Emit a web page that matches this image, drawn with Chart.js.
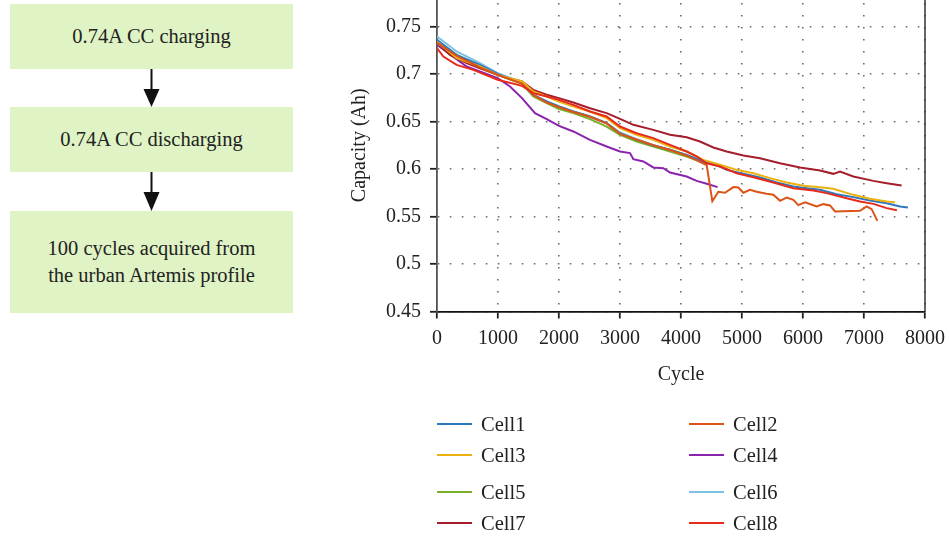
<!DOCTYPE html>
<html>
<head>
<meta charset="utf-8">
<script src="https://cdn.jsdelivr.net/npm/chart.js@4/dist/chart.umd.min.js"></script>
<style>
  html, body { margin: 0; padding: 0; background: #fff; }
  body { width: 949px; height: 538px; position: relative; overflow: hidden;
         font-family: 'Liberation Serif', 'DejaVu Serif', serif; color: #222; }
  .step { position: absolute; left: 10px; width: 283px; background: #dff3c4;
          display: flex; align-items: center; justify-content: center; text-align: center;
          font-size: 20.5px; line-height: 27px; }
  #arrows { position: absolute; left: 0; top: 0; }
  #chart-wrap { position: absolute; left: 330px; top: 0; width: 619px; height: 400px; overflow: hidden; }
  #capacity-chart { position: absolute; left: 0; top: -40px; }
  #legend { position: absolute; left: 0; top: 0; width: 949px; height: 538px; pointer-events: none; }
  .lg-item { position: absolute; display: flex; align-items: center; font-size: 20.5px; height: 24px; }
  .lg-line { width: 35px; height: 2.5px; margin-right: 9px; }
</style>
</head>
<body>
<div class="step" style="top:4px;height:65px;">0.74A CC charging</div>
<div class="step" style="top:107px;height:65px;">0.74A CC discharging</div>
<div class="step" style="top:211px;height:102px;">100 cycles acquired from<br>the urban Artemis profile</div>
<svg id="arrows" width="300" height="320">
  <line x1="151.5" y1="69" x2="151.5" y2="91" stroke="#111" stroke-width="2"/>
  <polygon points="143.5,89 159.5,89 151.5,107" fill="#111"/>
  <line x1="151.5" y1="172" x2="151.5" y2="194" stroke="#111" stroke-width="2"/>
  <polygon points="143.5,192 159.5,192 151.5,211" fill="#111"/>
</svg>
<div id="chart-wrap"><canvas id="capacity-chart" width="619" height="440"></canvas></div>
<div id="legend"></div>
<script>
(function () {
    // values: cycle number and capacity (Ah) for each cell
    const cellNames = ['Cell1', 'Cell2', 'Cell3', 'Cell4', 'Cell5', 'Cell6', 'Cell7', 'Cell8'];
    const cellColors = ['#2f78bb', '#dc5318', '#ecb010', '#8a24ad', '#7aaf2a', '#7cc1e6', '#a61d2b', '#e62a1c'];

    const cell1Cycles = [0, 322, 705, 995, 1393, 1579, 1798, 2000, 2235, 2508, 2781, 3000, 3273, 3546, 3820, 4093, 4366, 4639, 4749, 5022, 5295, 5568, 5842, 6060, 6279, 6552, 6825, 7098, 7372, 7590, 7720];
    const cell1Capacity = [0.736, 0.7202, 0.7096, 0.7002, 0.6904, 0.6781, 0.6711, 0.6658, 0.6605, 0.6553, 0.6482, 0.6377, 0.6307, 0.6247, 0.6202, 0.6149, 0.6079, 0.6026, 0.5991, 0.5949, 0.5911, 0.5858, 0.5816, 0.5798, 0.5781, 0.5735, 0.5704, 0.5668, 0.564, 0.5605, 0.5595];

    const cell2Cycles = [0, 322, 705, 995, 1393, 1579, 1798, 2000, 2235, 2508, 2781, 3000, 3273, 3546, 3820, 4093, 4421, 4514, 4612, 4721, 4858, 4940, 5022, 5131, 5240, 5404, 5514, 5623, 5732, 5842, 5923, 6033, 6224, 6333, 6443, 6525, 6934, 7044, 7126, 7219];
    const cell2Capacity = [0.733, 0.719, 0.707, 0.699, 0.69, 0.678, 0.67, 0.665, 0.66, 0.655, 0.648, 0.637, 0.631, 0.625, 0.62, 0.614, 0.604, 0.566, 0.576, 0.575, 0.581, 0.5805, 0.575, 0.578, 0.576, 0.574, 0.573, 0.5665, 0.57, 0.5675, 0.562, 0.565, 0.5605, 0.563, 0.5616, 0.5553, 0.556, 0.5605, 0.5577, 0.5454];

    const cell3Cycles = [0, 322, 705, 995, 1393, 1579, 1798, 2000, 2235, 2508, 2781, 3000, 3273, 3546, 3820, 4093, 4366, 4639, 4913, 5186, 5459, 5732, 6005, 6279, 6497, 6825, 7098, 7372, 7508];
    const cell3Capacity = [0.734, 0.7167, 0.7079, 0.6991, 0.6921, 0.6816, 0.6763, 0.6711, 0.6658, 0.6605, 0.6535, 0.643, 0.636, 0.6307, 0.6237, 0.6184, 0.6096, 0.6044, 0.5991, 0.5956, 0.5904, 0.5858, 0.5823, 0.5809, 0.5791, 0.5728, 0.5686, 0.5658, 0.5651];

    const cell4Cycles = [0, 486, 995, 1197, 1393, 1607, 1798, 2000, 2235, 2508, 2781, 3000, 3164, 3219, 3383, 3546, 3710, 3820, 4093, 4257, 4421, 4601];
    const cell4Capacity = [0.7307, 0.7079, 0.6956, 0.6868, 0.6746, 0.6588, 0.6525, 0.6454, 0.6395, 0.6307, 0.6237, 0.6184, 0.6167, 0.6104, 0.6079, 0.6016, 0.6009, 0.5963, 0.5921, 0.5875, 0.5844, 0.5809];

    const cell5Cycles = [0, 322, 705, 995, 1393, 1579, 1798, 2000, 2235, 2508, 2781, 3000, 3273, 3546, 3820, 4093, 4366, 4420];
    const cell5Capacity = [0.7325, 0.7202, 0.7079, 0.6991, 0.6896, 0.6763, 0.6693, 0.663, 0.6588, 0.6525, 0.6447, 0.636, 0.6289, 0.6237, 0.6184, 0.6132, 0.6068, 0.605];

    const cell6Cycles = [0, 322, 705, 995, 1393, 1579, 1798, 2000, 2235, 2508, 2781, 3000, 3273, 3546, 3820, 4093, 4366, 4450];
    const cell6Capacity = [0.7395, 0.7237, 0.7114, 0.7009, 0.6911, 0.6781, 0.6711, 0.6658, 0.6605, 0.6553, 0.6482, 0.6384, 0.6314, 0.6254, 0.6202, 0.6149, 0.6079, 0.606];

    const cell7Cycles = [0, 213, 486, 705, 995, 1393, 1579, 1798, 2000, 2235, 2508, 2781, 3000, 3219, 3546, 3820, 4093, 4311, 4530, 4749, 5022, 5295, 5623, 5951, 6279, 6497, 6607, 6825, 7153, 7372, 7617];
    const cell7Capacity = [0.733, 0.7202, 0.7114, 0.7061, 0.6991, 0.6921, 0.6833, 0.6781, 0.6746, 0.67, 0.664, 0.6588, 0.6528, 0.6465, 0.6412, 0.636, 0.6335, 0.6289, 0.6226, 0.6184, 0.6142, 0.6114, 0.6061, 0.6016, 0.5984, 0.5949, 0.5974, 0.5921, 0.5875, 0.5851, 0.5826];

    const cell8Cycles = [0, 104, 322, 596, 995, 1393, 1579, 1798, 2000, 2235, 2508, 2781, 3000, 3273, 3546, 3820, 4093, 4257, 4421, 4639, 4913, 5186, 5514, 5842, 6169, 6388, 6716, 6934, 7153, 7372, 7540];
    const cell8Capacity = [0.7272, 0.7184, 0.7096, 0.7044, 0.6939, 0.6875, 0.6798, 0.6763, 0.6728, 0.6675, 0.6605, 0.6553, 0.6447, 0.6377, 0.6325, 0.6254, 0.6184, 0.6132, 0.6061, 0.6026, 0.5956, 0.5914, 0.5858, 0.5798, 0.5774, 0.5746, 0.5693, 0.5658, 0.5633, 0.5588, 0.5565];

    const xTicks = [0, 1000, 2000, 3000, 4000, 5000, 6000, 7000, 8000];
    const yTicks = [0.45, 0.5, 0.55, 0.6, 0.65, 0.7, 0.75, 0.8];

    const allCycles = [cell1Cycles, cell2Cycles, cell3Cycles, cell4Cycles, cell5Cycles, cell6Cycles, cell7Cycles, cell8Cycles];
    const allCapacity = [cell1Capacity, cell2Capacity, cell3Capacity, cell4Capacity, cell5Capacity, cell6Capacity, cell7Capacity, cell8Capacity];
    // red on top, then orange, then yellow (as in the figure)
    const drawOrder = [3, 1, 2, 7, 5, 4, 6, 0];

    function toPoints(cycles, caps) {
        return cycles.map((c, i) => ({ x: c, y: caps[i] }));
    }

    let datasets = cellNames.map((name, i) => ({
        label: name,
        data: toPoints(allCycles[i], allCapacity[i]),
        borderColor: cellColors[i],
        backgroundColor: cellColors[i],
        borderWidth: 2,
        pointRadius: 0,
        tension: 0,
        order: drawOrder[i]
    }));

    const rightBorder = {
        id: 'rightBorder',
        afterDatasetsDraw(chart) {
            let a = chart.chartArea;
            let ctx = chart.ctx;
            ctx.save();
            ctx.strokeStyle = '#333';
            ctx.lineWidth = 1.5;
            ctx.beginPath();
            ctx.moveTo(a.right, a.top);
            ctx.lineTo(a.right, a.bottom);
            ctx.stroke();
            ctx.restore();
        }
    };

    Chart.defaults.font.family = "'Liberation Serif', 'DejaVu Serif', serif";
    Chart.defaults.font.size = 20;
    Chart.defaults.color = '#222';

    let gridStyle = {
        color: '#6a6a6a',
        lineWidth: 1.6,
        tickLength: 7,
        tickColor: '#222',
        tickWidth: 1.8
    };

    let ctx = document.getElementById('capacity-chart').getContext('2d');
    let chart = new Chart(ctx, {
        type: 'line',
        data: { datasets: datasets },
        plugins: [rightBorder],
        options: {
            responsive: false,
            animation: false,
            devicePixelRatio: 1,
            layout: { padding: { top: 19, right: 24, bottom: 0, left: 0 } },
            plugins: { legend: { display: false }, tooltip: { enabled: false } },
            scales: {
                x: {
                    type: 'linear',
                    min: xTicks[0],
                    max: xTicks[xTicks.length - 1],
                    afterBuildTicks: (s) => { s.ticks = xTicks.map(v => ({ value: v })); },
                    ticks: { padding: 8, maxRotation: 0, autoSkip: false, callback: (v) => String(v) },
                    grid: gridStyle,
                    border: { color: '#111', width: 1.8, dash: [1.6, 10.4] },
                    title: { display: true, text: 'Cycle', padding: { top: 0, bottom: 13 } },
                    afterFit: (s) => { s.height = 88.5; s.paddingLeft = 0; s.paddingRight = 0; }
                },
                y: {
                    min: yTicks[0],
                    max: yTicks[yTicks.length - 1],
                    afterBuildTicks: (s) => { s.ticks = yTicks.map(v => ({ value: v })); },
                    ticks: { padding: 9, autoSkip: false, callback: (v) => String(v) },
                    grid: gridStyle,
                    border: { color: '#555', width: 1.8, dash: [1.6, 10.4] },
                    title: { display: true, text: 'Capacity (Ah)', padding: { top: 18, bottom: 0 } },
                    afterFit: (s) => { s.width = 107; s.paddingTop = 0; s.paddingBottom = 0; }
                }
            }
        }
    });

    // legend in two columns below the plot
    let legend = document.getElementById('legend');
    let rowCenters = [424, 455, 492, 523];
    let colLefts = [437, 689];
    chart.data.datasets.forEach((ds, i) => {
        let item = document.createElement('div');
        item.className = 'lg-item';
        item.style.left = colLefts[i % 2] + 'px';
        item.style.top = (rowCenters[Math.floor(i / 2)] - 12) + 'px';
        let line = document.createElement('span');
        line.className = 'lg-line';
        line.style.background = ds.borderColor;
        let txt = document.createElement('span');
        txt.textContent = ds.label;
        item.appendChild(line);
        item.appendChild(txt);
        legend.appendChild(item);
    });
})();
</script>
</body>
</html>
